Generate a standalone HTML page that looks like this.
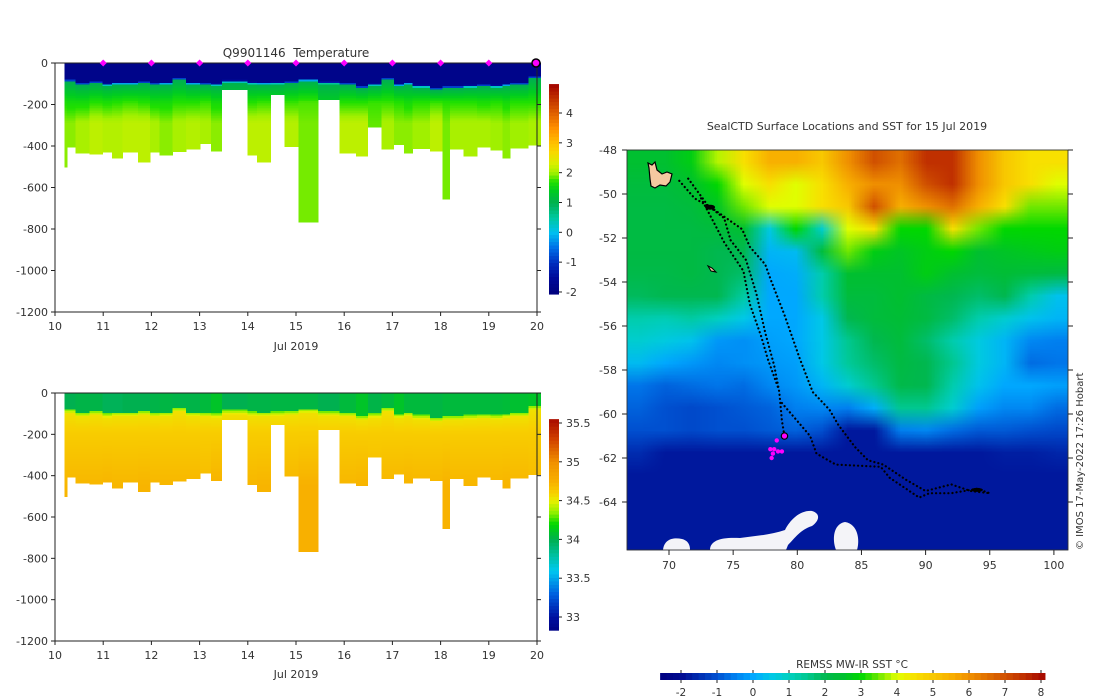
<!DOCTYPE html>
<html><head><meta charset="utf-8">
<style>
html,body{margin:0;padding:0;background:#fff;}
#wrap{position:relative;width:1100px;height:700px;overflow:hidden;background:#fff;}
#sst{position:absolute;left:0;top:0;}
#main{position:absolute;left:0;top:0;}
text{font-family:"DejaVu Sans","Liberation Sans",sans-serif;font-size:11px;fill:#333;}
</style></head>
<body>
<div id="wrap">
<canvas id="sst" width="1100" height="700"></canvas>
<svg id="main" width="1100" height="700" xmlns="http://www.w3.org/2000/svg">
  <text x="296" y="57" text-anchor="middle" style="font-size:12px;white-space:pre">Q9901146  Temperature</text>
  <text x="847" y="130" text-anchor="middle" style="font-size:11px">SealCTD Surface Locations and SST for 15 Jul 2019</text>
  <text x="296" y="350" text-anchor="middle">Jul 2019</text>
  <text x="296" y="678" text-anchor="middle">Jul 2019</text>
  <text x="852" y="668" text-anchor="middle" style="font-size:10.5px">REMSS MW-IR SST °C</text>
  <text transform="translate(1083,550) rotate(-90)" style="font-size:10px">© IMOS 17-May-2022 17:26 Hobart</text>
  <g id="g"></g>
</svg>
</div>
<script>
// ---------- profile data ----------
const profTimes = [10.20,10.25,10.43,10.72,10.99,11.18,11.40,11.72,11.97,12.17,12.44,12.72,13.01,13.24,13.46,13.99,14.19,14.47,14.76,15.05,15.46,15.90,16.24,16.49,16.77,17.03,17.24,17.42,17.78,18.04,18.19,18.48,18.76,19.03,19.28,19.44,19.82];
const profEnd = 20.07;
const profDepth = [502,406,435,440,430,459,430,478,430,444,427,414,388,425,128,444,478,152,403,767,176,435,449,310,415,393,435,412,425,656,415,449,406,419,459,411,396];
const mixedLayer = [80,80,96,88,99,93,93,88,96,93,72,93,96,99,83,91,93,91,88,77,90,96,112,99,72,101,93,107,120,112,112,107,104,107,101,96,64];
const tempMid = [1.65,1.6,1.6,1.7,1.65,1.7,1.75,1.7,1.6,1.6,1.7,1.7,1.75,1.6,1.4,1.7,1.75,1.6,1.75,1.8,1.4,1.7,1.7,1.75,1.75,1.7,1.6,1.7,1.75,1.7,1.7,1.7,1.65,1.7,1.6,1.7,1.7];
const tempDeep = [1.95,1.95,2.05,2.15,2.1,2.1,2.15,2.15,2.05,1.95,2.05,2.1,2.05,1.95,1.5,2.15,2.15,1.7,2.1,1.9,1.5,2.15,2.15,1.85,2.05,1.95,1.95,2.0,2.15,1.9,2.05,2.05,2.05,2.0,1.95,2.0,2.05];
const salSurf = [34.0,34.0,34.02,34.02,33.98,33.98,34.0,34.0,34.02,34.03,34.02,34.02,34.05,34.1,34.0,34.02,34.02,34.03,34.03,34.03,34.0,34.05,34.1,34.02,34.05,34.1,34.05,34.05,34.03,34.05,34.05,34.05,34.05,34.05,34.06,34.08,34.1];
const salDeep = [34.72,34.72,34.72,34.72,34.73,34.72,34.72,34.73,34.72,34.72,34.72,34.72,34.7,34.74,34.6,34.72,34.73,34.62,34.72,34.75,34.62,34.72,34.73,34.7,34.72,34.72,34.73,34.72,34.72,34.74,34.72,34.72,34.72,34.72,34.73,34.72,34.7];
const markerDays = [11,12,13,14,15,16,17,18,19];
const currentDay = 20;
const depthTicks = [0,-200,-400,-600,-800,-1000,-1200];
const dayTicks = [10,11,12,13,14,15,16,17,18,19,20];
const tempCbTicks = [4,3,2,1,0,-1,-2];
const salCbTicks = [35.5,35,34.5,34,33.5,33];
const sstCbTicks = [-2,-1,0,1,2,3,4,5,6,7,8];
const lonTicks = [70,75,80,85,90,95,100];
const latTicks = [-48,-50,-52,-54,-56,-58,-60,-62,-64];
// SST grid: columns lon 68..100 step 2, rows lat -48.5..-65.5 step 1
const sstLon = [68,70,72,74,76,78,80,82,84,86,88,90,92,94,96,98,100];
const sstLat = [-48.5,-49.5,-50.5,-51.5,-52.5,-53.5,-54.5,-55.5,-56.5,-57.5,-58.5,-59.5,-60.5,-61.5,-62.5,-63.5,-64.5,-65.5];
const sstGrid = [
[2.5,2.5,2.8,3.8,4.5,5.5,5.5,5,6,7,6.5,7.5,7.5,6,5,4.5,4.5],
[2.3,2.3,2.5,3,4,4.5,4,4.5,5.5,6,6,7,7.5,6,5,4.5,4],
[2.2,2.2,2.3,2.6,3.5,4,4,4.5,5,7,5.5,6,6.5,5.5,4.5,3.5,3.5],
[2.2,2.2,2.2,2.3,2.5,0.6,3,0.8,4,4.5,3,3,4.5,3.5,3,3,3],
[2.2,2.2,2.2,2,2,0.2,0.3,2.3,3.5,2.8,2.6,2.8,3,2.5,2.6,2.7,2.8],
[2.1,2.1,2.2,2,1.8,0,0.1,1.2,2.5,2.5,2.5,2.8,2.5,2.3,2.4,2.3,2.2],
[1.9,2,2,2,1.3,0,0,1.2,2.3,2.3,2.5,2.2,2,1.8,2,1.2,0.4],
[1.2,1.1,1.3,1,0.5,0,0,0.5,2,2.3,2.4,2.2,1.8,1.2,0.8,0.4,0.2],
[0.8,0.6,0.4,-0.2,-0.3,-0.1,0,0.5,1.5,2,2.3,1.8,1.2,0.6,0.2,-0.4,-0.5],
[0.3,0,-0.2,-0.4,-0.3,-0.2,-0.1,0.5,1.4,1.8,2.2,2,1.5,0.6,0.2,-0.7,-0.6],
[-0.6,-0.8,-0.7,-0.6,-0.7,-0.4,-0.2,0.2,0.8,1.5,2.1,2,1.2,0.4,0,0,-0.1],
[-0.8,-1,-1.1,-1,-0.9,-0.8,-0.5,-0.4,-0.5,0.1,1.5,1.5,0.8,-0.1,-0.4,-0.4,-0.7],
[-1,-1,-1.1,-1,-1,-0.9,-0.8,-1,-1.8,-1.8,-0.5,-0.4,-0.7,-0.9,-0.9,-1,-1.1],
[-1.5,-1.8,-1.8,-1.8,-1.8,-1.8,-1.8,-1.8,-1.8,-1.8,-1.8,-1.8,-1.8,-1.8,-1.7,-1.7,-1.6],
[-1.8,-1.8,-1.8,-1.8,-1.8,-1.8,-1.8,-1.8,-1.8,-1.8,-1.8,-1.8,-1.8,-1.8,-1.8,-1.8,-1.8],
[-1.8,-1.8,-1.8,-1.8,-1.8,-1.8,-1.8,-1.8,-1.8,-1.8,-1.8,-1.8,-1.8,-1.8,-1.8,-1.8,-1.8],
[-1.8,-1.8,-1.8,-1.8,-1.8,-1.8,-1.8,-1.8,-1.8,-1.8,-1.8,-1.8,-1.8,-1.8,-1.8,-1.8,-1.8],
[-1.8,-1.8,-1.8,-1.8,-1.8,-1.8,-1.8,-1.8,-1.8,-1.8,-1.8,-1.8,-1.8,-1.8,-1.8,-1.8,-1.8]];
const trackALon = [70.8,72,73.2,74.3,74.8,76,76.8,77.5,78.2,78.6,78.8,79];
const trackALat = [-49.4,-50.2,-50.6,-51.1,-52.1,-53,-54.5,-56.3,-57.8,-59,-60.3,-61];
const trackBLon = [71.5,73,75.7,76.3,77.5,78,79,80.2,81.2,82.5,83.2,84.5,85.5,86.7,88.5,90,92,93.5,95];
const trackBLat = [-49.3,-50.5,-51.6,-52.4,-53.2,-54,-55.5,-57.5,-59,-59.8,-60.5,-61.5,-62.1,-62.3,-63,-63.5,-63.2,-63.5,-63.6];
const trackCLon = [78.8,81,81.5,83,86.5,87.2,89.5,90.3,92,93,94,95];
const trackCLat = [-59.5,-61,-61.8,-62.3,-62.4,-62.9,-63.8,-63.6,-63.6,-63.5,-63.4,-63.6];
const trackDLon = [72.5,73.5,74.3,75.8,76.3,77.2,77.7,78.5];
const trackDLat = [-50.2,-51.3,-52.2,-53.5,-55,-56.5,-57.5,-58.8];
const surfLon = [77.9,78.2,78.5,78.8,78.4,78,78.1];
const surfLat = [-61.6,-61.6,-61.7,-61.7,-61.2,-62.0,-61.8];
const latestLon = 79, latestLat = -61;

// ---------- colour maps ----------
const tempStops=[[-2.1,'#00007a'],[-1.5,'#000a9a'],[-1,'#0030c0'],[-0.5,'#0070e8'],[0,'#00c0f0'],[0.5,'#00c8a0'],[1,'#00b050'],[1.4,'#00cc20'],[1.7,'#20e000'],[2.0,'#a0f000'],[2.3,'#d8f000'],[2.7,'#f8d800'],[3,'#ffc000'],[3.5,'#ff9000'],[4,'#e06000'],[4.5,'#c03000'],[5,'#a00000']];
const salStops=[[32.8,'#000080'],[33,'#0010a0'],[33.3,'#0060e0'],[33.6,'#00c8f0'],[33.8,'#00c0a0'],[34,'#00b050'],[34.2,'#00d800'],[34.35,'#90f000'],[34.5,'#e8f000'],[34.6,'#f8d000'],[34.75,'#f8b000'],[35,'#f09000'],[35.3,'#d04000'],[35.6,'#a00000']];
const sstStops=[[-2.6,'#000080'],[-2,'#000a90'],[-1,'#0050d0'],[-0.5,'#0080f0'],[0,'#00a8ff'],[0.5,'#00c8e8'],[1,'#00d0c0'],[1.5,'#00c890'],[2,'#00b850'],[2.5,'#00c030'],[3,'#00d800'],[3.3,'#40e000'],[3.7,'#a0f000'],[4,'#e0ff00'],[4.5,'#f8e000'],[5,'#f8c800'],[5.5,'#f8b000'],[6,'#f09000'],[6.5,'#e07000'],[7,'#d05000'],[7.5,'#c03000'],[8.2,'#a00000']];
function hex(c){return [parseInt(c.substr(1,2),16),parseInt(c.substr(3,2),16),parseInt(c.substr(5,2),16)];}
function cmapRGB(st,v){
  if(v<=st[0][0])return hex(st[0][1]);
  for(let i=1;i<st.length;i++){ if(v<=st[i][0]){const a=hex(st[i-1][1]),b=hex(st[i][1]);const t=(v-st[i-1][0])/(st[i][0]-st[i-1][0]);return a.map((x,k)=>Math.round(x+(b[k]-x)*t));}}
  return hex(st[st.length-1][1]);
}
function cmap(st,v){const c=cmapRGB(st,v);return 'rgb('+c.join(',')+')';}

// ---------- scales ----------
const xDay = d => 55 + (d-10)*48.2;
const yTop = m => 63 - m*249/1200;
const yBot = m => 393 - m*248/1200;
const yTempCb = v => 113 - (v-4)*29.83;
const ySalCb = v => 423 - (v-35.5)*77.6;
const xSstCb = v => 681 + (v+2)*36;
const xLon = lon => 669 + (lon-70)*12.83;
const yLat = lat => 150 + (-48-lat)*22;

const NS='http://www.w3.org/2000/svg';
const G=document.getElementById('g');
function mk(tag,attrs,parent){const e=document.createElementNS(NS,tag);for(const k in attrs)e.setAttribute(k,attrs[k]);(parent||G).appendChild(e);return e;}

function tempAt(i,d){
  const m=mixedLayer[i];
  if(d<m) return -1.8;
  if(d<m+12) return -1.8+(d-m)/12*2.8;
  if(d<190) return 1.0+(d-m-12)/Math.max(1,(190-m-12))*(tempMid[i]-1.0);
  return tempMid[i]+Math.min(1,(d-190)/100)*(tempDeep[i]-tempMid[i]);
}
function salAt(i,d){
  const m=mixedLayer[i];
  if(d<m) return salSurf[i];
  if(d<m+20) return 34.3+(d-m)/20*0.25;
  if(d<200) return 34.55+(d-m-20)/Math.max(1,(180-m))*0.07;
  return 34.62+Math.min(1,(d-200)/250)*(salDeep[i]-34.62);
}

// ---------- section plots ----------
function drawSection(yFn,valFn,stops,name){
  const grp=mk('g',{'shape-rendering':'crispEdges'});
  
  
  for(let i=0;i<profTimes.length;i++){
    const x0=xDay(profTimes[i]);
    const x1=xDay(i+1<profTimes.length?profTimes[i+1]:profEnd);
    const step=8;
    for(let d=0; d<profDepth[i]; d+=step){
      const d1=Math.min(profDepth[i],d+step);
      const yA=yFn(-d), yB=yFn(-d1);
      const r=mk('rect',{x:x0.toFixed(2),y:yA.toFixed(2),width:(x1-x0+0.4).toFixed(2),height:(yB-yA+0.4).toFixed(2),fill:cmap(stops,valFn(i,d+step/2))},grp);
      
      
    }
  }
}
drawSection(yTop,tempAt,tempStops,'temperature');
drawSection(yBot,salAt,salStops,'salinity');

function drawAxes(yFn,yTopPx,yBotPx,name){
  const frame=mk('rect',{x:55,y:yTopPx,width:482,height:yBotPx-yTopPx,fill:'none',stroke:'#222','stroke-width':1});
  
  
  depthTicks.forEach(t=>{
    const y=yFn(t);
    mk('line',{x1:51,y1:y,x2:55,y2:y,stroke:'#222'});
    mk('line',{x1:537,y1:y,x2:541,y2:y,stroke:'#222'});
    const tx=mk('text',{x:48,y:y+4,'text-anchor':'end'});
    tx.textContent=t;
    
    
  });
  dayTicks.forEach(d=>{
    const x=xDay(d);
    mk('line',{x1:x,y1:yBotPx,x2:x,y2:yBotPx+4,stroke:'#222'});
    const tx=mk('text',{x:x,y:yBotPx+18,'text-anchor':'middle'});
    tx.textContent=d;
    
    
  });
}
drawAxes(yTop,63,312,'temperature');
drawAxes(yBot,393,641,'salinity');

// markers on temperature plot
markerDays.forEach(d=>{
  const x=xDay(d);
  const p=mk('path',{d:`M${x-3.5},63 L${x},59.5 L${x+3.5},63 L${x},66.5 Z`,fill:'#ff00ff'});
  
  
});
{
  const c=mk('circle',{cx:xDay(currentDay)-1,cy:63,r:4,fill:'#ff00ff',stroke:'#000','stroke-width':1.5});
  
  
}

// vertical colorbars
function vColorbar(x,yFn,stops,ticks,name,vTop,vBot){
  const grp=mk('g',{});
  
  
  const n=60;
  for(let k=0;k<n;k++){
    const v0=vBot+(vTop-vBot)*k/n, v1=vBot+(vTop-vBot)*(k+1)/n;
    const r=mk('rect',{x:x,y:yFn(v1),width:10,height:yFn(v0)-yFn(v1)+0.5,fill:cmap(stops,(v0+v1)/2)},grp);
    
    
  }
  ticks.forEach(t=>{
    const y=yFn(t);
    mk('line',{x1:x+10,y1:y,x2:x+13,y2:y,stroke:'#222'},grp);
    const tx=mk('text',{x:x+17,y:y+4},grp);
    tx.textContent=t;
    
    
  });
}
vColorbar(549,yTempCb,tempStops,tempCbTicks,'temperature',4.97,-2.07);
vColorbar(549,ySalCb,salStops,salCbTicks,'salinity',35.55,32.83);

// ---------- SST map ----------
(function(){
  const cv=document.getElementById('sst');
  const ctx=cv.getContext('2d');
  ctx.fillStyle=cmap(sstStops,-1.8);
  ctx.fillRect(627,150,441,400);
  const off=document.createElement('canvas');
  off.width=sstLon.length; off.height=sstLat.length;
  const oc=off.getContext('2d');
  const img=oc.createImageData(off.width,off.height);
  for(let r=0;r<sstLat.length;r++)for(let c=0;c<sstLon.length;c++){
    const col=cmapRGB(sstStops,sstGrid[r][c]);const o=(r*off.width+c)*4;
    img.data[o]=col[0];img.data[o+1]=col[1];img.data[o+2]=col[2];img.data[o+3]=255;
  }
  oc.putImageData(img,0,0);
  ctx.save();
  ctx.beginPath();ctx.rect(627,150,441,400);ctx.clip();
  ctx.imageSmoothingEnabled=true;
  const x0=xLon(sstLon[0]-1.4), x1=xLon(sstLon[sstLon.length-1]+1.2);
  const y0=yLat(sstLat[0]+0.5), y1=yLat(sstLat[sstLat.length-1]-0.8);
  ctx.drawImage(off,x0,y0,x1-x0,y1-y0);
  ctx.restore();
})();

// ice / land patches (white)
const ice=[
 'M663,550 C664,540 672,537 682,539 C690,541 690,548 690,550 Z',
 'M710,550 C710,540 722,537 740,538 C755,536 770,535 785,530 C790,520 800,510 812,511 C822,514 818,522 812,526 C800,530 795,538 788,545 L786,550 Z',
 'M836,550 C832,540 833,524 845,522 C858,524 860,540 857,550 Z'
];
ice.forEach(d=>{const p=mk('path',{d:d,fill:'#f4f4f8'});});
// Kerguelen & Heard islands
{
 const k=mk('path',{d:'M649,168 L648,163 L652,165 L655,162 L657,170 L662,174 L667,172 L672,174 L670,182 L666,186 L660,185 L655,188 L651,186 L650,179 Z',fill:'#f5c9a0',stroke:'#000','stroke-width':1.2});
 
 
 const h=mk('path',{d:'M708,266 L712,268 L716,272 L711,271 Z',fill:'#f5c9a0',stroke:'#000','stroke-width':1});
 
 
}
// tracks
[[trackALon,trackALat,'a'],[trackBLon,trackBLat,'b'],[trackCLon,trackCLat,'c'],[trackDLon,trackDLat,'d']].forEach(tr=>{
  const pts=tr[0].map((lo,i)=>xLon(lo).toFixed(1)+','+yLat(tr[1][i]).toFixed(1)).join(' ');
  const pl=mk('polyline',{points:pts,fill:'none',stroke:'#000','stroke-width':2.2,'stroke-dasharray':'0.1 4','stroke-linecap':'round'});
  
  
});
// dense clusters
{
 const c1=mk('ellipse',{cx:xLon(73.2),cy:yLat(-50.6),rx:5,ry:2.5,fill:'#000'});
 
 
 const c2=mk('ellipse',{cx:xLon(94),cy:yLat(-63.45),rx:6,ry:2,fill:'#000'});
 
 
}
surfLon.forEach((lo,i)=>{
  const c=mk('circle',{cx:xLon(lo),cy:yLat(surfLat[i]),r:2.2,fill:'#ff00ff'});
  
  
});
{
  const c=mk('circle',{cx:xLon(latestLon),cy:yLat(latestLat),r:3.2,fill:'#ff00ff',stroke:'#000','stroke-width':1.2});
  
  
}
// map frame & ticks
{
  const fr=mk('rect',{x:627,y:150,width:441,height:400,fill:'none',stroke:'#222','stroke-width':0.8});
  
  
}
latTicks.forEach(t=>{
  const y=yLat(t);
  mk('line',{x1:622,y1:y,x2:627,y2:y,stroke:'#222'});
  mk('line',{x1:1068,y1:y,x2:1073,y2:y,stroke:'#222'});
  const tx=mk('text',{x:617,y:y+4,'text-anchor':'end'});
  tx.textContent=t;
  
  
});
lonTicks.forEach(t=>{
  const x=xLon(t);
  mk('line',{x1:x,y1:550,x2:x,y2:555,stroke:'#222'});
  const tx=mk('text',{x:x,y:569,'text-anchor':'middle'});
  tx.textContent=t;
  
  
});
// SST colorbar
{
  const grp=mk('g',{});
  
  
  const n=60, vL=-2.58, vR=8.11;
  for(let k=0;k<n;k++){
    const v0=vL+(vR-vL)*k/n, v1=vL+(vR-vL)*(k+1)/n;
    const r=mk('rect',{x:xSstCb(v0),y:673,width:xSstCb(v1)-xSstCb(v0)+0.5,height:7,fill:cmap(sstStops,(v0+v1)/2)},grp);
    
    
  }
  sstCbTicks.forEach(t=>{
    const x=xSstCb(t);
    mk('line',{x1:x,y1:670,x2:x,y2:673,stroke:'#222'},grp);
    mk('line',{x1:x,y1:680,x2:x,y2:683,stroke:'#222'},grp);
    const tx=mk('text',{x:x,y:696,'text-anchor':'middle','style':'font-size:10.5px'},grp);
    tx.textContent=t;
    
    
  });
}
</script>
</body></html>
